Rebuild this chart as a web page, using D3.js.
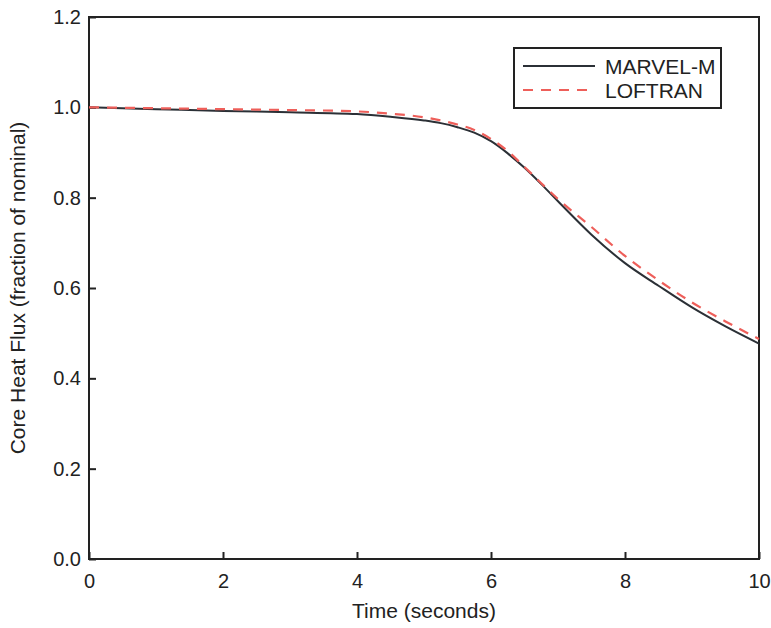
<!DOCTYPE html>
<html>
<head>
<meta charset="utf-8">
<script src="https://cdn.jsdelivr.net/npm/d3@7"></script>
<style>
  body { margin: 0; background: #fff; }
  text { font-family: "Liberation Sans", Arial, sans-serif; fill: #222; }
</style>
</head>
<body>
<div id="chart"></div>
<script>
// values
var time    = [0, 1, 2, 3, 4, 4.5, 5, 5.25, 5.5, 5.75, 6, 6.25, 6.5, 6.75, 7, 7.5, 8, 8.5, 9, 9.5, 10];
var marvelM = [1.000, 0.996, 0.992, 0.989, 0.985, 0.979, 0.971, 0.965, 0.956, 0.944, 0.925, 0.898, 0.866, 0.830, 0.792, 0.718, 0.655, 0.605, 0.557, 0.515, 0.477];
var loftran = [1.000, 0.998, 0.996, 0.994, 0.991, 0.986, 0.978, 0.971, 0.962, 0.950, 0.930, 0.903, 0.868, 0.832, 0.797, 0.735, 0.671, 0.617, 0.568, 0.526, 0.487];
var xTicks = [0, 2, 4, 6, 8, 10];
var yTicks = [0.0, 0.2, 0.4, 0.6, 0.8, 1.0, 1.2];
var seriesNames = ["MARVEL-M", "LOFTRAN"];

var W = 771, H = 628;
var margin = {left: 89, top: 17, right: 12, bottom: 69};
var width = W - margin.left - margin.right,
    height = H - margin.top - margin.bottom;

var svg = d3.select("#chart")
  .append("svg")
    .attr("width", W)
    .attr("height", H);

var chart = svg.append("g")
    .attr("transform", "translate(" + margin.left + "," + margin.top + ")");

var xScale = d3.scaleLinear().domain([0, 10]).range([0, width]);
var yScale = d3.scaleLinear().domain([0, 1.2]).range([height, 0]);

// axes, ticks pointing inward
var xAxis = chart.append("g")
    .attr("transform", "translate(0," + height + ")")
    .call(d3.axisBottom(xScale).tickValues(xTicks).tickSize(-7).tickPadding(15).tickFormat(d3.format("d")));
var yAxis = chart.append("g")
    .call(d3.axisLeft(yScale).tickValues(yTicks).tickSize(-7).tickPadding(8).tickFormat(d3.format(".1f")));

[xAxis, yAxis].forEach(function(a) {
  a.select(".domain").remove();
  a.selectAll("line").attr("stroke", "#222").attr("stroke-width", 2);
  a.selectAll("text").attr("font-size", "20px").attr("fill", "#222")
    .style("font-family", "'Liberation Sans', Arial, sans-serif");
});

// frame
chart.append("rect")
    .attr("x", 0).attr("y", 0)
    .attr("width", width).attr("height", height)
    .attr("fill", "none")
    .attr("stroke", "#222")
    .attr("stroke-width", 2);

var line = d3.line()
    .x(d => xScale(d[0]))
    .y(d => yScale(d[1]))
    .curve(d3.curveMonotoneX);

var loftData = time.map((t, i) => [t, loftran[i]]);
var marvData = time.map((t, i) => [t, marvelM[i]]);

chart.append("path")
    .datum(marvData)
    .attr("d", line)
    .attr("fill", "none")
    .attr("stroke", "#2b3036")
    .attr("stroke-width", 2);

chart.append("path")
    .datum(loftData)
    .attr("d", line)
    .attr("fill", "none")
    .attr("stroke", "#ee5f5a")
    .attr("stroke-width", 2.2)
    .attr("stroke-dasharray", "10,8");

// legend
var legend = chart.append("g")
    .attr("transform", "translate(" + (width - 245) + ",31)");
legend.append("rect")
    .attr("width", 207).attr("height", 60)
    .attr("fill", "#fff")
    .attr("stroke", "#222")
    .attr("stroke-width", 2);

var styles = [
  {stroke: "#2b3036", dash: null},
  {stroke: "#ee5f5a", dash: "10,8"}
];
seriesNames.forEach(function(name, i) {
  var y = 18 + i * 24;
  legend.append("line")
      .attr("x1", 9).attr("x2", 81)
      .attr("y1", y).attr("y2", y)
      .attr("stroke", styles[i].stroke)
      .attr("stroke-width", 2)
      .attr("stroke-dasharray", styles[i].dash);
  legend.append("text")
      .attr("x", 91).attr("y", y + 8)
      .attr("font-size", "21px")
      .text(name);
});

// axis titles
svg.append("text")
    .attr("x", margin.left + width / 2)
    .attr("y", 618)
    .attr("text-anchor", "middle")
    .attr("font-size", "21px")
    .text("Time (seconds)");

svg.append("text")
    .attr("transform", "translate(25," + (margin.top + height / 2) + ") rotate(-90)")
    .attr("text-anchor", "middle")
    .attr("font-size", "21px")
    .text("Core Heat Flux (fraction of nominal)");
</script>
</body>
</html>
